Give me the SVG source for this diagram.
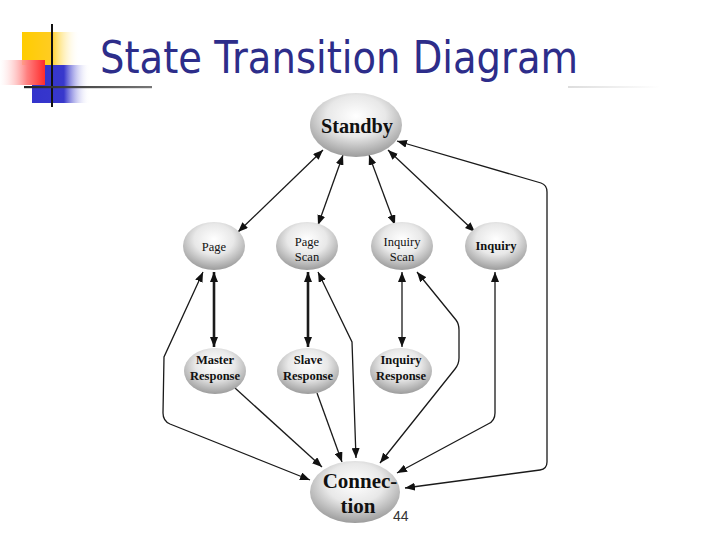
<svg xmlns="http://www.w3.org/2000/svg" width="720" height="540" viewBox="0 0 720 540">
<defs>
<radialGradient id="ball" cx="0.5" cy="0.36" r="0.64">
<stop offset="0" stop-color="#ffffff"/>
<stop offset="0.5" stop-color="#e8e8e8"/>
<stop offset="1" stop-color="#9c9c9c"/>
</radialGradient>
<linearGradient id="yel" x1="0" y1="0" x2="1" y2="0">
<stop offset="0" stop-color="#ffcc00"/>
<stop offset="0.5" stop-color="#ffcc22"/>
<stop offset="0.6" stop-color="#ffe070"/>
<stop offset="1" stop-color="#ffffff" stop-opacity="0"/>
</linearGradient>
<linearGradient id="blu" x1="0" y1="0" x2="1" y2="0">
<stop offset="0" stop-color="#3333cc"/>
<stop offset="0.55" stop-color="#3838cc"/>
<stop offset="1" stop-color="#ffffff" stop-opacity="0"/>
</linearGradient>
<linearGradient id="red" x1="0" y1="0" x2="1" y2="0">
<stop offset="0" stop-color="#ffffff" stop-opacity="0.3"/>
<stop offset="0.6" stop-color="#ff8080"/>
<stop offset="1" stop-color="#ff2b2b"/>
</linearGradient>
<linearGradient id="hl" x1="0" y1="0" x2="1" y2="0">
<stop offset="0" stop-color="#222222"/>
<stop offset="1" stop-color="#777777"/>
</linearGradient>
<linearGradient id="faint" x1="0" y1="0" x2="1" y2="0">
<stop offset="0" stop-color="#dddddd"/>
<stop offset="1" stop-color="#ffffff"/>
</linearGradient>
<marker id="arr" viewBox="0 0 10 8" refX="10" refY="4" markerWidth="10" markerHeight="8" markerUnits="userSpaceOnUse" orient="auto-start-reverse">
<path d="M0,0 L10,4 L0,8 z" fill="#111"/>
</marker>
</defs>
<style>
.node ellipse{fill:url(#ball);}
.lbl{font-family:"Liberation Serif","Times New Roman",serif;fill:#111;text-anchor:middle;}
.big{font-size:21px;font-weight:bold;}
.sm{font-size:12.5px;}
.smb{font-size:12.5px;font-weight:bold;}
.c{fill:none;stroke:#1a1a1a;stroke-width:1.3;}
.thick{stroke-width:2.6;}
.both{marker-start:url(#arr);marker-end:url(#arr);}
.one{marker-end:url(#arr);}
</style>
<rect width="720" height="540" fill="#ffffff"/>
<g id="logo">
<rect x="22" y="32" width="58" height="33" fill="url(#yel)"/>
<rect x="32" y="65" width="58" height="38" fill="url(#blu)"/>
<rect x="0" y="60" width="45" height="25" fill="url(#red)"/>
<line x1="52" y1="24" x2="52" y2="107" stroke="#111" stroke-width="2"/>
<rect x="24" y="86" width="128" height="2.2" fill="url(#hl)"/>
<rect x="568" y="86" width="92" height="2" fill="url(#faint)"/>
</g>
<text id="title" x="100" y="73" font-family="DejaVu Sans, Verdana, sans-serif" font-size="44" fill="#2d2d8a" textLength="478" lengthAdjust="spacingAndGlyphs">State Transition Diagram</text>
<g id="connectors">
<path class="c both" d="M238,232 L323,150"/>
<path class="c both" d="M318,225 L343,155"/>
<path class="c both" d="M369,155 L395,225"/>
<path class="c both" d="M388,150 L475,232"/>
<path class="c both" d="M397,141 L541,183 Q547,185 547,192 L547,462 Q547,469 540,470 L405,488"/>
<path class="c thick both" d="M214,272 L214,347"/>
<path class="c thick both" d="M308,272 L308,347"/>
<path class="c both" d="M402,272 L402,347"/>
<path class="c both" d="M203,272 L164,357 L163,413 Q163,421 170,424 L310,480"/>
<path class="c one" d="M235,388 L322,467"/>
<path class="c one" d="M317,393 L342,462"/>
<path class="c both" d="M318,272 L352,342 L356,458"/>
<path class="c both" d="M417,272 L456,320 Q459,324 459,330 L459,358 Q459,364 455,369 L380,463"/>
<path class="c both" d="M495,272 L495,413 Q495,421 488,424 L397,473"/>
</g>
<g id="standby" class="node"><ellipse cx="356" cy="125" rx="46" ry="32"/><text class="lbl big" x="357" y="133" textLength="72" lengthAdjust="spacingAndGlyphs">Standby</text></g>
<g id="page" class="node"><ellipse cx="214" cy="246" rx="31" ry="24"/><text class="lbl sm" x="214" y="251">Page</text></g>
<g id="pagescan" class="node"><ellipse cx="307" cy="246" rx="31" ry="24"/><text class="lbl sm" x="307" y="246">Page</text><text class="lbl sm" x="307" y="261">Scan</text></g>
<g id="inquiryscan" class="node"><ellipse cx="402" cy="246" rx="31" ry="24"/><text class="lbl sm" x="402" y="246">Inquiry</text><text class="lbl sm" x="402" y="261">Scan</text></g>
<g id="inquiry" class="node"><ellipse cx="496" cy="246" rx="31" ry="24"/><text class="lbl smb" x="496" y="250">Inquiry</text></g>
<g id="master" class="node"><ellipse cx="215" cy="371" rx="31" ry="23"/><text class="lbl smb" x="215" y="364">Master</text><text class="lbl smb" x="215" y="380">Response</text></g>
<g id="slave" class="node"><ellipse cx="308" cy="371" rx="31" ry="23"/><text class="lbl smb" x="308" y="364">Slave</text><text class="lbl smb" x="308" y="380">Response</text></g>
<g id="inquiryresp" class="node"><ellipse cx="401" cy="371" rx="31" ry="23"/><text class="lbl smb" x="401" y="364">Inquiry</text><text class="lbl smb" x="401" y="380">Response</text></g>
<g id="connection" class="node"><ellipse cx="355" cy="492" rx="45" ry="31"/><text class="lbl big" x="360" y="488">Connec-</text><text class="lbl big" x="358" y="513">tion</text></g>
<text id="pagenum" x="393" y="521" font-family="Liberation Sans, Arial, sans-serif" font-size="14" fill="#333">44</text>
</svg>
